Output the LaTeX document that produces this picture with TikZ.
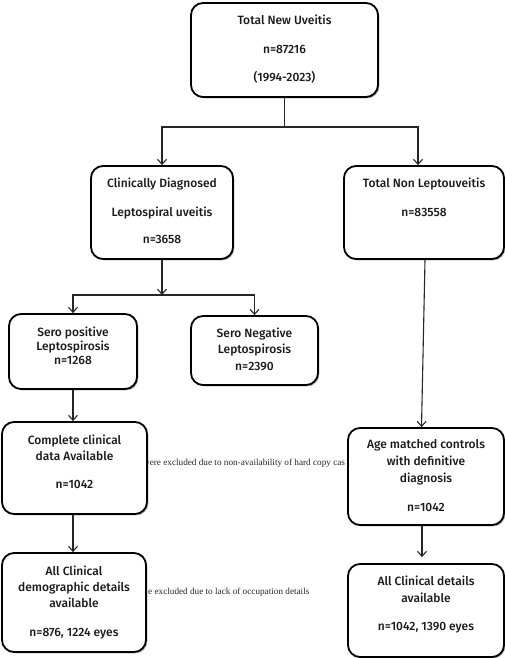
\documentclass[tikz,border=0pt]{standalone}
\usepackage{fontspec}
\setmainfont{Fira Sans}[UprightFont={* Medium}]
\newfontfamily\notefont{Liberation Serif}
\usetikzlibrary{arrows.meta,shadows,calc}
\begin{document}
\begin{tikzpicture}[x=1pt,y=-1pt,
  box/.style={draw=black, line width=1.8pt, rounded corners=12pt, fill=white, inner sep=0pt,
    drop shadow={shadow xshift=1.3pt, shadow yshift=-1.3pt, opacity=0.35, fill=black}},
  ln/.style={font=\fontsize{12}{14}\selectfont, text=black!90, text height=7.6pt, text depth=0pt, inner sep=0pt},
  conn/.style={draw=black!85, line width=1.1pt},
  arr/.style={conn, -{Straight Barb[length=5pt,width=9pt,line width=1.1pt]}},
  note/.style={font=\notefont\fontsize{9.2}{10}\selectfont, text=black!85, inner sep=0pt, anchor=west, text height=6pt, text depth=1.5pt}]
\useasboundingbox (0,0) rectangle (505,658);

% side notes (partly hidden by the boxes)
\node[note] (n1) at (143,463) {were excluded due to non-availability of hard copy cas};
\node[note] (n2) at (148,592) {e excluded due to lack of occupation details};

% boxes
\node[box, minimum width=187pt, minimum height=94pt] (top) at (284.5,50) {};
\node[box, minimum width=142pt, minimum height=93pt] (clin) at (162,212.5) {};
\node[box, minimum width=160pt, minimum height=93pt] (nonl) at (424,212.5) {};
\node[box, minimum width=128pt, minimum height=75pt] (sp) at (73,351.5) {};
\node[box, minimum width=127pt, minimum height=69pt] (sn) at (254.5,350.5) {};
\node[box, minimum width=145pt, minimum height=92pt] (comp) at (74.5,468) {};
\node[box, minimum width=144pt, minimum height=99pt] (allcl) at (74,602.5) {};
\node[box, minimum width=156pt, minimum height=97pt] (age) at (426,476.5) {};
\node[box, minimum width=156pt, minimum height=93pt] (det) at (426,610.5) {};

% texts
\node[ln] (top1) at (284.5,21) {Total New Uveitis};
\node[ln] (top2) at (284.5,50) {n=87216};
\node[ln] (top3) at (284.5,78) {(1994-2023)};
\node[ln] (clin1) at (162,184) {Clinically Diagnosed};
\node[ln] (clin2) at (162,213) {Leptospiral uveitis};
\node[ln] (clin3) at (162,240) {n=3658};
\node[ln] (nonl1) at (424,184) {Total Non Leptouveitis};
\node[ln] (nonl2) at (424,213) {n=83558};
\node[ln] (sp1) at (73,333) {Sero positive};
\node[ln] (sp2) at (73,347) {Leptospirosis};
\node[ln] (sp3) at (73,361) {n=1268};
\node[ln] (sn1) at (254.5,334) {Sero Negative};
\node[ln] (sn2) at (254.5,350) {Leptospirosis};
\node[ln] (sn3) at (254.5,367) {n=2390};
\node[ln] (comp1) at (74.5,441) {Complete clinical};
\node[ln] (comp2) at (74.5,457) {data Available};
\node[ln] (comp3) at (74.5,485) {n=1042};
\node[ln] (all1) at (74,572) {All Clinical};
\node[ln] (all2) at (74,588) {demographic details};
\node[ln] (all3) at (74,604) {available};
\node[ln] (all4) at (74,633) {n=876, 1224 eyes};
\node[ln] (age1) at (426,445) {Age matched controls};
\node[ln] (age2) at (426,462) {with definitive};
\node[ln] (age3) at (426,479) {diagnosis};
\node[ln] (age4) at (426,508) {n=1042};
\node[ln] (det1) at (426,582) {All Clinical details};
\node[ln] (det2) at (426,599) {available};
\node[ln] (det3) at (426,627) {n=1042, 1390 eyes};

% connectors
\coordinate (j1) at (284.5,127);
\coordinate (j2) at (162,295);
\draw[conn] (top.south) -- (j1);
\draw[arr] (j1) -| (clin.north);
\draw[arr] (j1) -| ($(nonl.north)+(-6,0)$);
\draw[arr] (clin.south) -- (j2);
\draw[arr] (j2) -| (sp.north);
\draw[arr] (j2) -| (sn.north);
\draw[arr] (sp.south) -- (sp.south |- comp.north);
\draw[arr] (sp.south |- comp.south) -- (sp.south |- allcl.north);
\draw[arr] ($(nonl.south)+(1,0)$) -- ($(age.north)+(-4.5,0)$);
\draw[arr, shorten >=6pt] ($(age.south)+(-4,0)$) -- ($(det.north)+(-4,0)$);
\end{tikzpicture}
\end{document}
